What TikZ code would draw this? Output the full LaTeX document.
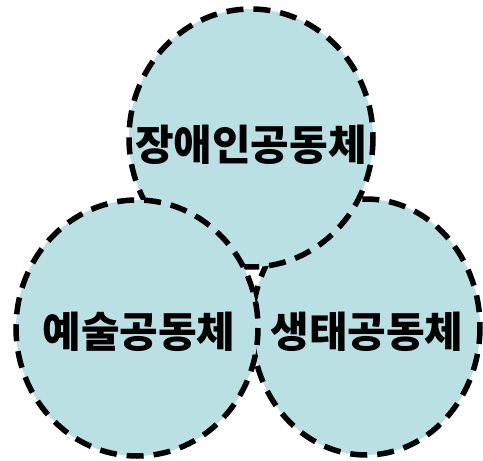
\documentclass[tikz,border=0pt]{standalone}
\usepackage{fontspec}
\newfontfamily\kr{Noto Sans CJK KR}[BoldFont={Noto Sans CJK KR Black}]
\definecolor{circfill}{HTML}{BBE0E3}
\begin{document}
\begin{tikzpicture}[x=1pt,y=-1pt,
  circ/.style={draw=black,fill=circfill,line width=5.5pt,dash pattern=on 17pt off 10pt},
  lbl/.style={font=\kr\bfseries\fontsize{42}{44}\selectfont,inner sep=0pt}]
\useasboundingbox (0,0) rectangle (483,461);
\draw[circ] (366,327) ellipse [x radius=114, y radius=128];
\draw[circ] (251,138) ellipse [x radius=122, y radius=129];
\draw[circ] (137,328) ellipse [x radius=121, y radius=128];
\node[lbl] (a) at (251,145) {장애인공동체};
\node[lbl] (b) at (139,332) {예술공동체};
\node[lbl] (c) at (367,332) {생태공동체};
\end{tikzpicture}
\end{document}
